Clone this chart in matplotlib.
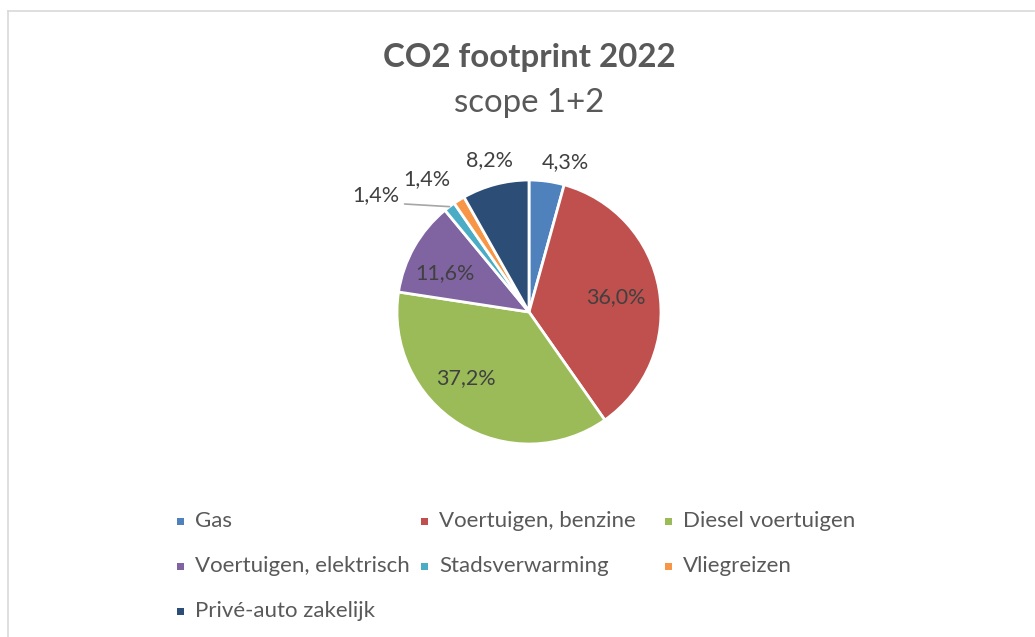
import matplotlib
matplotlib.use("Agg")
import matplotlib.pyplot as plt
from matplotlib.patches import Rectangle
from matplotlib.lines import Line2D
import numpy as np

categories = ["Gas", "Voertuigen, benzine", "Diesel voertuigen",
              "Voertuigen, elektrisch", "Stadsverwarming", "Vliegreizen",
              "Privé-auto zakelijk"]
values = [4.3, 36.0, 37.2, 11.6, 1.4, 1.4, 8.2]
labels = ["4,3%", "36,0%", "37,2%", "11,6%", "1,4%", "1,4%", "8,2%"]
colors = ["#4F81BD", "#C0504D", "#9BBB59", "#8064A2", "#4BACC6", "#F79646", "#2C4D75"]

# label placement style: (radius factor, angle shift in degrees)
label_style = [(1.17, -6.0), (0.67, 0.0), (0.69, -12.0), (0.70, 5.0),
               None, (1.27, 5.5), (1.19, 0.0)]

W, H = 1035, 637
FONT = "Lato"
TXT = "#595959"
fig = plt.figure(figsize=(W / 100, H / 100), dpi=100)

def fx(x):
    return x / W

def fy(y):
    return 1 - y / H

# border (top and left visible)
fig.add_artist(Line2D([fx(8), fx(1034)], [fy(11), fy(11)], color="#D9D9D9", lw=1.2))
fig.add_artist(Line2D([fx(8), fx(8)], [fy(11), fy(637)], color="#D9D9D9", lw=1.2))

# title
fig.text(fx(529), fy(57), "CO2 footprint 2022", ha="center", va="center",
         fontsize=23.8, fontweight="bold", color=TXT, family=FONT)
fig.text(fx(529), fy(103), "scope 1+2", ha="center", va="center",
         fontsize=23.8, color=TXT, family=FONT)

# pie axes: centre (529, 312), radius 132 px
cx, cy, R = 529, 312, 132
ax = fig.add_axes([fx(cx - 2 * R), fy(cy + 2 * R), 4 * R / W, 4 * R / H])

wedges, _ = ax.pie(values, colors=colors, startangle=90, counterclock=False,
                   radius=1.0, wedgeprops=dict(edgecolor="white", linewidth=2.0))
ax.set_xlim(-2, 2)
ax.set_ylim(-2, 2)
ax.set_aspect("equal")
ax.axis("off")

LBL = 15.5
for i, w in enumerate(wedges):
    mid = np.deg2rad((w.theta1 + w.theta2) / 2)
    st = label_style[i]
    if st is None:
        # leader line label
        ex, ey = np.cos(mid), np.sin(mid)
        lx, ly = ex - 0.34, ey + 0.02
        ax.plot([ex, lx], [ey, ly], color="#A6A6A6", lw=1.2, solid_capstyle="round")
        ax.text(lx - 0.04, ly + 0.065, labels[i], ha="right", va="center",
                fontsize=LBL, color="#404040", family=FONT)
        continue
    r, shift = st
    a = mid + np.deg2rad(shift)
    ax.text(r * np.cos(a), r * np.sin(a), labels[i], ha="center", va="center",
            fontsize=LBL, color="#404040", family=FONT)

# legend (row-wise, 3 columns)
for i, name in enumerate(categories):
    row, col = divmod(i, 3)
    x0 = 177 + 244 * col
    y0 = 521 + 45 * row
    s = 7
    fig.add_artist(Rectangle((fx(x0), fy(y0 + s / 2)), s / W, s / H,
                             facecolor=colors[i], edgecolor="none"))
    fig.text(fx(x0 + 18), fy(y0), name, ha="left", va="center",
             fontsize=16, color=TXT, family=FONT)

fig.savefig("out.png", dpi=100, facecolor="white")
